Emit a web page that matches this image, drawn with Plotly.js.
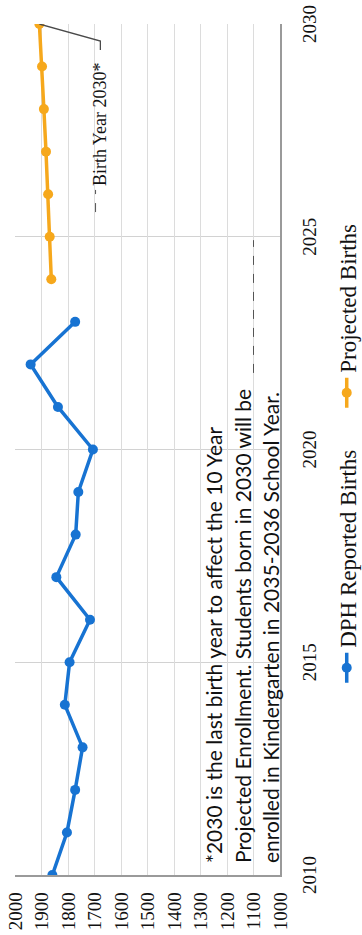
<!DOCTYPE html>
<html>
<head>
<meta charset="utf-8">
<script src="https://cdn.plot.ly/plotly-3.0.1.min.js"></script>
<style>
  html, body { margin: 0; padding: 0; width: 362px; height: 935px; overflow: hidden; background: #fff; }
  /* the chart is laid out landscape, then turned a quarter turn counter-clockwise */
  #chart {
    position: absolute; left: 0; top: 935px;
    width: 935px; height: 380px;
    transform-origin: 0 0;
    transform: rotate(-90deg);
  }
</style>
</head>
<body>
<div id="chart"></div>
<script>
// Birth years and counts
const reportedYears = [2010, 2011, 2012, 2013, 2014, 2015, 2016, 2017, 2018, 2019, 2020, 2021, 2022, 2023];
const reportedBirths = [1859, 1804, 1773, 1745, 1812, 1794, 1717, 1844, 1771, 1761, 1706, 1838, 1941, 1773];
const projectedYears = [2024, 2025, 2026, 2027, 2028, 2029, 2030];
const projectedBirths = [1863, 1869, 1875, 1883, 1891, 1898, 1908];

const yearTicks = [2010, 2015, 2020, 2025, 2030];
const birthTicks = [1000, 1100, 1200, 1300, 1400, 1500, 1600, 1700, 1800, 1900, 2000];

const seriesNames = ['DPH Reported Births', 'Projected Births'];
const calloutText = 'Birth Year 2030*';
const noteLines = [
  '*2030 is the last birth year to affect the 10 Year',
  'Projected Enrollment. Students born in 2030 will be',
  'enrolled in Kindergarten in 2035-2036 School Year.'
];

const BLUE = '#1773d2';
const ORANGE = '#f6a81c';
const SERIF = 'Liberation Serif, Times New Roman, serif';
const SANS = 'Lato, Carlito, Calibri, sans-serif';

const traces = [
  {
    x: reportedYears, y: reportedBirths, name: seriesNames[0],
    type: 'scatter', mode: 'lines+markers',
    line: { color: BLUE, width: 3.5 },
    marker: { color: BLUE, size: 10 }
  },
  {
    x: projectedYears, y: projectedBirths, name: seriesNames[1],
    type: 'scatter', mode: 'lines+markers',
    line: { color: ORANGE, width: 3.5 },
    marker: { color: ORANGE, size: 10 }
  }
];

const lastYear = projectedYears[projectedYears.length - 1];
const lastBirths = projectedBirths[projectedBirths.length - 1];

// footnote lines, left aligned in the lower part of the plot
const noteY = [0.252, 0.141, 0.034];
const annotations = noteLines.map((t, i) => ({
  text: t, xref: 'paper', yref: 'paper', x: 0.012, y: noteY[i],
  xanchor: 'left', yanchor: 'middle', showarrow: false,
  font: { family: SANS, size: 21, color: '#111' }
}));

// callout for the final projected year
annotations.push({
  text: calloutText, x: lastYear, y: lastBirths, xref: 'x', yref: 'y',
  xanchor: 'right', yanchor: 'middle', xshift: -36, yshift: -61,
  showarrow: false, font: { family: SERIF, size: 18, color: '#111' }
});

const shapes = [
  // leader from the 2030 point to its label
  {
    type: 'path', xref: 'x', yref: 'y', xsizemode: 'pixel', ysizemode: 'pixel',
    xanchor: lastYear, yanchor: lastBirths,
    path: 'M0,0 L-17,-61 L-26,-61',
    line: { color: '#4a4a4a', width: 1.3 }
  },
  // dashed text-box edges
  {
    type: 'line', xref: 'paper', yref: 'paper', x0: 0.779, x1: 0.805, y0: 0.696, y1: 0.696,
    line: { color: '#555', width: 1, dash: 'dash' }
  },
  {
    type: 'line', xref: 'paper', yref: 'paper', x0: 0.590, x1: 0.746, y0: 0.100, y1: 0.100,
    line: { color: '#555', width: 1, dash: 'dash' }
  }
];

const layout = {
  width: 935, height: 380,
  margin: { l: 60, r: 24, t: 15, b: 95 },
  paper_bgcolor: '#fff', plot_bgcolor: '#fff',
  showlegend: true,
  legend: {
    orientation: 'h', x: 0.22, xanchor: 'left', y: -0.252, yanchor: 'middle',
    font: { family: SERIF, size: 23, color: '#111' },
    itemwidth: 30, entrywidth: 230, entrywidthmode: 'pixels',
    bgcolor: 'rgba(0,0,0,0)'
  },
  xaxis: {
    range: [2010, 2030], tickvals: yearTicks, ticktext: yearTicks.map(String),
    showgrid: true, gridcolor: '#d2d2d2', gridwidth: 1,
    showline: true, linecolor: '#9a9a9a', linewidth: 1.5,
    zeroline: false, ticks: '', ticklabelstandoff: 12,
    tickfont: { family: SERIF, size: 19, color: '#111' }
  },
  yaxis: {
    range: [1000, 2000], tickvals: birthTicks, ticktext: birthTicks.map(String),
    showgrid: true, gridcolor: '#dcdcdc', gridwidth: 1,
    showline: true, linecolor: '#9a9a9a', linewidth: 1.5,
    zeroline: false, ticks: '', ticklabelstandoff: 12,
    tickfont: { family: SERIF, size: 19, color: '#111' }
  },
  annotations: annotations,
  shapes: shapes
};

Plotly.newPlot('chart', traces, layout, { staticPlot: true, displayModeBar: false });
</script>
</body>
</html>
